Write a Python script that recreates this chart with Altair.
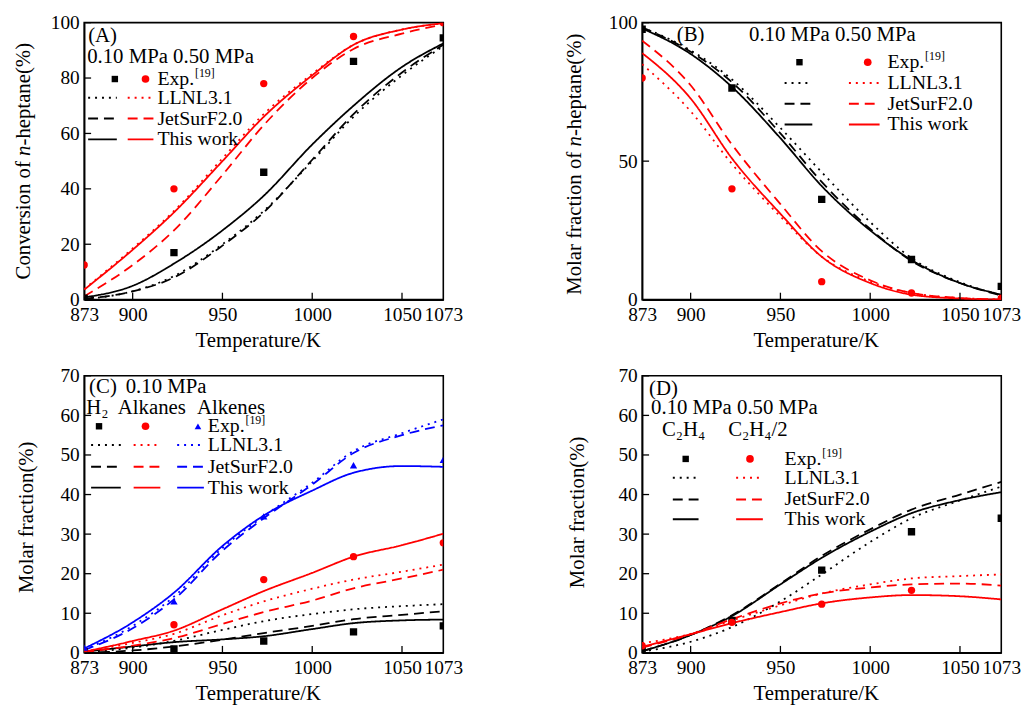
import altair as alt
import pandas as pd

FONT = "Liberation Serif"
W, H = 363, 280

# ---------------- data ----------------
T = [873, 900, 923, 950, 973, 1000, 1023, 1050, 1073]
EXP_T = [873, 923, 973, 1023, 1073]
X_TICKS = [873, 900, 950, 1000, 1050, 1073]
X_INNER = [900, 950, 1000, 1050]
MODELS = ["LLNL3.1", "JetSurF2.0", "This work"]

# (A) conversion of n-heptane
A_llnl_010 = [0.2, 3, 8.5, 20, 32, 50, 66, 81, 91.5]
A_jet_010 = [0.3, 3, 8, 19.5, 31.5, 50.5, 67, 82, 92]
A_this_010 = [0.8, 5, 13, 25, 37.5, 56, 70, 84, 92.5]
A_llnl_050 = [3.8, 18.5, 32, 51, 67, 81.5, 92, 97.5, 99.8]
A_jet_050 = [1.2, 12.5, 25, 45, 63, 80, 90.5, 96, 99.3]
A_this_050 = [3.6, 18, 31.5, 50, 66, 81, 92, 97.5, 99.8]
A_exp_010 = [0.5, 17, 46, 86, 94.5]
A_exp_050 = [12.5, 40, 78, 95, 100]

# (B) molar fraction of n-heptane
B_llnl_010 = [98.3, 90, 79.5, 62, 46, 28, 15, 6.3, 1.6]
B_jet_010 = [98.3, 89.5, 78.5, 60, 42.5, 25.5, 14, 6, 1.5]
B_this_010 = [97.9, 88.7, 76.8, 58.3, 41, 25, 14.3, 6, 1.8]
B_llnl_050 = [85, 68, 49, 30, 15.5, 6.5, 2.4, 0.6, 0.05]
B_jet_050 = [93.5, 77.4, 56, 34.5, 17.5, 7, 2.4, 0.6, 0]
B_this_050 = [89, 72.6, 51, 31, 15.5, 6, 1.8, 0.4, 0]
B_exp_010 = [97.6, 76.4, 36.2, 14.5, 4.8]
B_exp_050 = [80, 40, 6.5, 2.4, 0.5]

# (C) H2 / alkanes / alkenes at 0.10 MPa
C_h2_llnl = [0, 1.3, 3, 5.8, 8, 9.8, 11, 11.8, 12.3]
C_h2_jet = [0, 0.6, 1.6, 3.3, 5, 6.8, 8.5, 9.6, 10.5]
C_h2_this = [0.3, 1.6, 2.7, 3.4, 4.2, 6, 7.5, 8.2, 8.4]
C_alkane_llnl = [0.3, 2.5, 4.8, 9.5, 13, 16.2, 18.5, 20.5, 22.3]
C_alkane_jet = [0.2, 1.8, 3.7, 7.3, 10.3, 13.2, 16.3, 18.8, 21]
C_alkane_this = [0.25, 3, 5.6, 11, 15.6, 20.2, 24.3, 27.2, 30.1]
C_alkene_llnl = [0.8, 6.8, 14.2, 26.5, 34.5, 43, 51, 55.5, 59]
C_alkene_jet = [0.7, 6.2, 13.5, 25.8, 34, 42.5, 50.5, 55, 57.5]
C_alkene_this = [1.1, 7.7, 15.2, 27, 34.7, 41, 45.5, 47.2, 47]
C_h2_exp = [0.2, 1, 3, 5.3, 6.8]
C_alkane_exp = [0.3, 7.1, 18.5, 24.3, 27.8]
C_alkene_exp = [1.3, 13, 34.5, 47.4, 48.8]

# (D) C2H4 at 0.10 MPa and C2H4/2 at 0.50 MPa
D_c2h4_llnl = [0.3, 2.8, 6.5, 13, 19.8, 28, 34, 38.5, 42]
D_c2h4_jet = [0.4, 4.5, 9.5, 17.5, 24.5, 31.2, 36.2, 40, 43.2]
D_c2h4_this = [0.4, 4.5, 9.3, 17.3, 24, 30.6, 35.3, 38.6, 40.6]
D_half_llnl = [2.4, 4.8, 8.2, 12, 15, 17.3, 18.8, 19.4, 19.8]
D_half_jet = [1.3, 4.7, 8.5, 12.5, 15, 16.5, 17.3, 17.5, 17]
D_half_this = [1.5, 4.7, 7.5, 10.3, 12.5, 14, 14.6, 14.3, 13.5]
D_c2h4_exp = [0.5, 8.2, 20.9, 30.6, 34]
D_half_exp_T = [873, 923, 973, 1023]
D_half_exp = [1.8, 7.7, 12.3, 15.8]

# ---------------- styling ----------------
BLACK, RED, BLUE = "#000000", "#ff0000", "#0000ff"
DASHES = {"LLNL3.1": [2, 5], "JetSurF2.0": [10, 6], "This work": [1, 0]}
ONE = pd.DataFrame({"a": [0]})

# Times / Liberation Serif advance widths (per em) used to place title pieces
WID = {"C": .667, "o": .5, "n": .5, "v": .5, "e": .444, "r": .333, "s": .389,
       "i": .278, "f": .333, " ": .25, "M": .889, "l": .278, "a": .444,
       "c": .444, "t": .278, "h": .5, "p": .5, "-": .333, "(": .333,
       "%": .833, ")": .333}


def tw(s, size):
    return sum(WID.get(ch, .5) for ch in s) * size


def curves_df(curves):
    rows = []
    for series, model, vals in curves:
        for t, v in zip(T, vals):
            rows.append({"T": t, "v": v, "series": series, "model": model})
    return pd.DataFrame(rows)


def points_df(points):
    rows = []
    for series, ts, vals in points:
        for t, v in zip(ts, vals):
            rows.append({"T": t, "v": v, "series": series})
    return pd.DataFrame(rows)


def text(s, x, y, size=20, align="left", angle=0, style="normal"):
    kw = dict(text=s, align=align, baseline="middle", font=FONT,
              fontSize=size, color="black", fontStyle=style)
    if angle:
        kw["angle"] = angle
    return alt.Chart(ONE).mark_text(**kw).encode(x=alt.value(x), y=alt.value(y))


def seg(x1, x2, y, color, model):
    return alt.Chart(ONE).mark_rule(color=color, strokeDash=DASHES[model],
                                    strokeWidth=2).encode(
        x=alt.value(x1), x2=alt.value(x2), y=alt.value(y))


def marker(x, y, shape, color, size):
    return alt.Chart(ONE).mark_point(shape=shape, filled=True, color=color,
                                     opacity=1, size=size).encode(
        x=alt.value(x), y=alt.value(y))


SHAPE_SIZE = {"square": 42, "circle": 60, "triangle-up": 45}


def panel(curves, points, series, colors, shapes, ymax, yticks, extra):
    xs = alt.Scale(domain=[873, 1073], nice=False, zero=False)
    ys = alt.Scale(domain=[0, ymax], nice=False, zero=False)
    xaxis = alt.Axis(values=X_TICKS, title="Temperature/K", ticks=False,
                     format="d", labelFlush=False, labelOverlap=False,
                     labelPadding=6, titlePadding=6, titleX=W / 2 - 6,
                     grid=False)
    yaxis = alt.Axis(values=yticks, title=None, ticks=False, labelPadding=5,
                     format="d", labelOverlap=False, grid=False)
    xenc = alt.X("T:Q", scale=xs, axis=xaxis)
    yenc = alt.Y("v:Q", scale=ys, axis=yaxis)
    col = alt.Color("series:N", scale=alt.Scale(domain=series, range=colors),
                    legend=None)
    dash = alt.StrokeDash("model:N",
                          scale=alt.Scale(domain=MODELS,
                                          range=[DASHES[m] for m in MODELS]),
                          legend=None)
    lines = alt.Chart(curves_df(curves)).mark_line(
        strokeWidth=1.8, clip=True, interpolate="monotone").encode(
        x=xenc, y=yenc, color=col, strokeDash=dash)
    pts = alt.Chart(points_df(points)).mark_point(
        filled=True, opacity=1, clip=True, size=55).encode(
        x=xenc, y=yenc, color=col,
        shape=alt.Shape("series:N", scale=alt.Scale(domain=series, range=shapes),
                        legend=None))
    xt = alt.Chart(pd.DataFrame({"T": X_INNER})).mark_rule(
        color="black", strokeWidth=1.3).encode(
        x=xenc, y=alt.value(H), y2=alt.value(H - 7))
    yt = alt.Chart(pd.DataFrame({"v": yticks})).mark_rule(
        color="black", strokeWidth=1.3).encode(
        y=yenc, x=alt.value(0), x2=alt.value(7))
    return alt.layer(lines, pts, xt, yt, *extra).properties(width=W, height=H)


def legend_block(cols, y_rows, text_x, sup_dx, shapes_colors):
    """cols: list of (x1, x2, marker_x); y_rows: y of Exp, LLNL, Jet, This."""
    layers = []
    for (x1, x2, mx), (shape, color) in zip(cols, shapes_colors):
        layers.append(marker(mx, y_rows[0], shape, color, SHAPE_SIZE[shape]))
        for m, yy in zip(MODELS, y_rows[1:]):
            layers.append(seg(x1, x2, yy, color, m))
    layers.append(text("Exp.", text_x, y_rows[0]))
    layers.append(text("[19]", text_x + sup_dx, y_rows[0] - 6, size=12))
    for m, yy in zip(MODELS, y_rows[1:]):
        layers.append(text(m, text_x, yy))
    return layers


def ytitle_italic(before, italic, after, x, center, size=21):
    total = tw(before + " ", size) + 0.5 * size + tw(after, size)
    ybot = center + total / 2
    y2 = ybot - tw(before + " ", size)
    y3 = y2 - 0.5 * size
    return [text(before, x, ybot, size=size, angle=270),
            text(italic, x, y2, size=size, angle=270, style="italic"),
            text(after, x, y3, size=size, angle=270)]


# ---------------- panel A ----------------
A_extra = [text("(A)", 4, 14, size=21), text("0.10 MPa 0.50 MPa", 3, 35, size=21)]
A_extra += legend_block([(4, 33, 31), (44, 70, 62)], [57, 76, 97, 118], 74, 38,
                        [("square", BLACK), ("circle", RED)])
A_extra += ytitle_italic("Conversion of", "n", "-heptane(%)", -61, 140)
chart_A = panel(
    [("0.10", "LLNL3.1", A_llnl_010), ("0.10", "JetSurF2.0", A_jet_010),
     ("0.10", "This work", A_this_010), ("0.50", "LLNL3.1", A_llnl_050),
     ("0.50", "JetSurF2.0", A_jet_050), ("0.50", "This work", A_this_050)],
    [("0.10", EXP_T, A_exp_010), ("0.50", EXP_T, A_exp_050)],
    ["0.10", "0.50"], [BLACK, RED], ["square", "circle"],
    100, [0, 20, 40, 60, 80, 100], A_extra)

# ---------------- panel B ----------------
B_extra = [text("(B)", 35, 13, size=21), text("0.10 MPa 0.50 MPa", 108, 13, size=21)]
B_extra += legend_block([(144, 172, 159), (209, 240, 228)], [40, 61, 82, 103], 248, 38,
                        [("square", BLACK), ("circle", RED)])
B_extra += ytitle_italic("Molar fraction of", "n", "-heptane(%)", -68, 143)
chart_B = panel(
    [("0.10", "LLNL3.1", B_llnl_010), ("0.10", "JetSurF2.0", B_jet_010),
     ("0.10", "This work", B_this_010), ("0.50", "LLNL3.1", B_llnl_050),
     ("0.50", "JetSurF2.0", B_jet_050), ("0.50", "This work", B_this_050)],
    [("0.10", EXP_T, B_exp_010), ("0.50", EXP_T, B_exp_050)],
    ["0.10", "0.50"], [BLACK, RED], ["square", "circle"],
    100, [0, 50, 100], B_extra)

# ---------------- panel C ----------------
C_extra = [text("(C)", 5, 11, size=21), text("0.10 MPa", 42, 11, size=21),
           text("H\u2082", 2, 33, size=21), text("Alkanes", 34, 33, size=21),
           text("Alkenes", 114, 33, size=21)]
C_extra += legend_block([(7, 37, 15), (50, 77, 62), (94, 121, 115)],
                        [51, 70, 92, 113], 125, 38,
                        [("square", BLACK), ("circle", RED), ("triangle-up", BLUE)])
C_extra += [text("Molar fraction(%)", -58, 143, size=21, align="center", angle=270)]
chart_C = panel(
    [("H2", "LLNL3.1", C_h2_llnl), ("H2", "JetSurF2.0", C_h2_jet),
     ("H2", "This work", C_h2_this),
     ("Alkanes", "LLNL3.1", C_alkane_llnl), ("Alkanes", "JetSurF2.0", C_alkane_jet),
     ("Alkanes", "This work", C_alkane_this),
     ("Alkenes", "LLNL3.1", C_alkene_llnl), ("Alkenes", "JetSurF2.0", C_alkene_jet),
     ("Alkenes", "This work", C_alkene_this)],
    [("H2", EXP_T, C_h2_exp), ("Alkanes", EXP_T, C_alkane_exp),
     ("Alkenes", EXP_T, C_alkene_exp)],
    ["H2", "Alkanes", "Alkenes"], [BLACK, RED, BLUE],
    ["square", "circle", "triangle-up"],
    70, [0, 10, 20, 30, 40, 50, 60, 70], C_extra)

# ---------------- panel D ----------------
D_extra = [text("(D)", 7, 13, size=21), text("0.10 MPa 0.50 MPa", 9, 33, size=21),
           text("C\u2082H\u2084", 20, 55, size=21), text("C\u2082H\u2084/2", 87, 55, size=21)]
D_extra += legend_block([(31, 57, 44), (95, 122, 109)], [84, 103, 125, 145], 144, 38,
                        [("square", BLACK), ("circle", RED)])
D_extra += [text("Molar fraction(%)", -65, 138, size=21, align="center", angle=270)]
chart_D = panel(
    [("C2H4", "LLNL3.1", D_c2h4_llnl), ("C2H4", "JetSurF2.0", D_c2h4_jet),
     ("C2H4", "This work", D_c2h4_this),
     ("half", "LLNL3.1", D_half_llnl), ("half", "JetSurF2.0", D_half_jet),
     ("half", "This work", D_half_this)],
    [("C2H4", EXP_T, D_c2h4_exp), ("half", D_half_exp_T, D_half_exp)],
    ["C2H4", "half"], [BLACK, RED], ["square", "circle"],
    70, [0, 10, 20, 30, 40, 50, 60, 70], D_extra)

chart = alt.concat(chart_A, chart_B, chart_C, chart_D, columns=2,
                   spacing={"row": 13, "column": 100}).resolve_scale(
    color="independent", shape="independent", strokeDash="independent"
).properties(
    padding={"left": 4, "top": 0, "right": 5, "bottom": 2},
    background="white"
).configure_view(stroke="black", strokeWidth=1.6).configure_axis(
    domainColor="black", domainWidth=1.6, labelFont=FONT, labelFontSize=19.5,
    labelColor="black", titleFont=FONT, titleFontSize=21,
    titleFontWeight="normal", titleColor="black"
)

chart.save("out.html", embed_options={"renderer": "svg", "actions": False})
